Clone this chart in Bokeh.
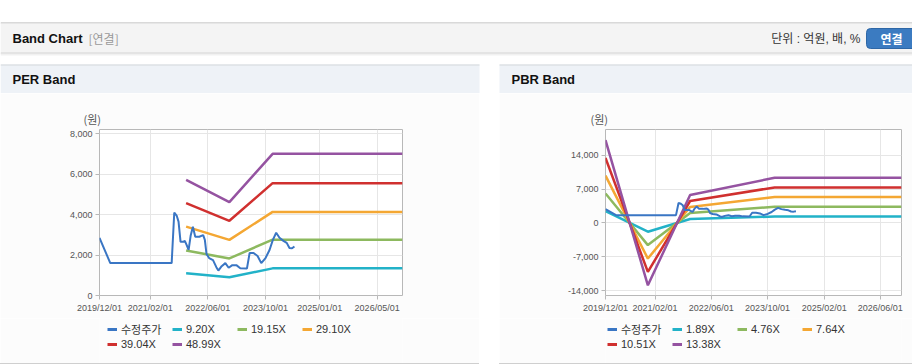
import datetime as dt
from bokeh.plotting import figure
from bokeh.layouts import column, row
from bokeh.models import (Range1d, FixedTicker, DatetimeTickFormatter, NumeralTickFormatter,
                          Legend, LegendItem, Spacer)
from bokeh.core.properties import value
from bokeh.embed import file_html
from bokeh.resources import INLINE

# ---------------- data ----------------
price_dates = ["2019-12-01", "2020-03-01", "2021-08-01", "2021-08-23", "2021-09-12", "2021-09-28",
               "2021-10-15", "2021-11-06", "2021-11-20", "2021-12-05", "2021-12-22", "2022-01-08",
               "2022-01-27", "2022-02-16", "2022-03-22", "2022-04-24", "2022-05-08", "2022-05-22",
               "2022-06-13", "2022-07-16", "2022-08-13", "2022-08-30", "2022-09-27", "2022-10-28",
               "2022-11-25", "2022-12-26", "2023-01-29", "2023-03-03", "2023-04-28", "2023-05-21",
               "2023-06-23", "2023-07-27", "2023-08-27", "2023-10-02", "2023-11-05", "2023-12-03",
               "2023-12-31", "2024-01-28", "2024-03-01", "2024-03-29", "2024-04-21", "2024-05-13",
               "2024-06-02"]
price_values = [2850, 1600, 1600, 4100, 3950, 3650,
                2650, 2650, 2700, 2500, 2250, 2950,
                3400, 2900, 2900, 2980, 2750, 2050,
                1850, 1750, 1400, 1230, 1450, 1600,
                1370, 1500, 1500, 1350, 1330, 2100,
                2100, 1950, 1600, 1850, 2250, 2750,
                3100, 2850, 2700, 2600, 2350, 2330,
                2420]
price_label = "수정주가"

per_dates = ["2021-12-01", "2022-12-01", "2023-12-01", "2026-12-01"]
per_labels = ["9.20X", "19.15X", "29.10X", "39.04X", "48.99X"]
per_9_20 = [1100, 900, 1340, 1340]
per_19_15 = [2220, 1830, 2760, 2760]
per_29_10 = [3400, 2750, 4130, 4130]
per_39_04 = [4560, 3690, 5550, 5550]
per_48_99 = [5710, 4610, 7000, 7000]

pbr_dates = ["2019-12-01", "2020-12-01", "2021-12-01", "2023-12-01", "2026-12-01"]
pbr_labels = ["1.89X", "4.76X", "7.64X", "10.51X", "13.38X"]
pbr_1_89 = [2420, -1820, 815, 1320, 1320]
pbr_4_76 = [6080, -4590, 2050, 3320, 3320]
pbr_7_64 = [9770, -7370, 3290, 5330, 5330]
pbr_10_51 = [13430, -10130, 4525, 7330, 7330]
pbr_13_38 = [17100, -12900, 5760, 9330, 9330]

per_x_ticks = ["2019-12-01", "2021-02-01", "2022-06-01", "2023-10-01", "2025-01-01", "2026-05-01"]
pbr_x_ticks = ["2019-12-01", "2021-02-01", "2022-06-01", "2023-10-01", "2025-02-01", "2026-06-01"]
per_y_ticks = [0, 2000, 4000, 6000, 8000]
pbr_y_ticks = [-14000, -7000, 0, 7000, 14000]
x_start, x_end = "2019-12-01", "2026-12-01"

# ---------------- styles ----------------
COLORS = ["#3a76c4", "#22b2c8", "#8db95f", "#f4a733", "#d0302f", "#9553a1"]
LATIN = "Liberation Sans, Noto Sans CJK KR"
KFONT = "Noto Sans CJK KR"
PANEL = "#fcfcfc"


def d(s):
    return dt.datetime.strptime(s, "%Y-%m-%d")


def ms(s):
    return (d(s) - dt.datetime(1970, 1, 1)).total_seconds() * 1000.0


def make_chart(width, b_left, b_right, y_rng, y_ticks, x_ticks, title_offset,
               band_dates, bands):
    p = figure(width=width, height=225, x_axis_type="datetime",
               x_range=Range1d(d(x_start), d(x_end)), y_range=Range1d(*y_rng),
               output_backend="svg", toolbar_location=None,
               min_border_left=b_left, min_border_right=b_right,
               min_border_top=36, min_border_bottom=23,
               border_fill_color=PANEL, background_fill_color="white",
               outline_line_color="#b8b8b8")
    xt = FixedTicker(ticks=[ms(t) for t in x_ticks])
    p.xaxis.ticker = xt
    p.xgrid.ticker = xt
    yt = FixedTicker(ticks=y_ticks)
    p.yaxis.ticker = yt
    p.ygrid.ticker = yt
    fmt = "%Y/%m/%d"
    p.xaxis.formatter = DatetimeTickFormatter(microseconds=fmt, milliseconds=fmt, seconds=fmt,
                                              minsec=fmt, minutes=fmt, hourmin=fmt, hours=fmt,
                                              days=fmt, months=fmt, years=fmt)
    p.yaxis.formatter = NumeralTickFormatter(format="0,0")
    for ax in (p.xaxis[0], p.yaxis[0]):
        ax.axis_line_color = None
        ax.major_tick_line_color = "#b8b8b8"
        ax.major_tick_out = 4
        ax.major_tick_in = 0
        ax.minor_tick_line_color = None
        ax.major_label_text_font = "Liberation Sans"
        ax.major_label_text_font_size = "9px"
        ax.major_label_text_color = "#555555"
    p.xaxis.major_label_standoff = 3
    p.yaxis.major_label_standoff = 3
    p.grid.grid_line_color = "#e6e6e6"

    p.title.text = "(원)"
    p.title.align = "left"
    p.title.offset = title_offset
    p.title.standoff = 6
    p.title.text_font = KFONT
    p.title.text_font_size = "11px"
    p.title.text_font_style = "normal"
    p.title.text_color = "#555555"

    for vals, col in zip(bands, COLORS[1:]):
        p.line([d(s) for s in band_dates], vals, line_color=col, line_width=2.5)
    p.line([d(s) for s in price_dates], price_values, line_color=COLORS[0], line_width=2)
    return p


def make_legend(width, labels, lx):
    # legend-only strip below a chart; its frame is aligned with the chart frame above
    lg = figure(width=width, height=45, x_range=Range1d(0, 1), y_range=Range1d(0, 1),
                output_backend="svg", toolbar_location=None, x_axis_location=None,
                y_axis_location=None, min_border=0, outline_line_color=None,
                background_fill_color=PANEL, border_fill_color=PANEL)
    lg.grid.visible = False
    items = []
    for lab, col in zip([price_label] + labels, COLORS):
        # key-only renderer, kept outside the visible range
        r = lg.line(x=[5, 6], y=[5, 5], line_color=col, line_width=3)
        items.append(LegendItem(label=lab, renderers=[r]))
    leg = Legend(items=items, location=(lx, 12), orientation="horizontal", ncols=4,
                 glyph_width=10, glyph_height=14, label_height=14, label_width=51,
                 label_standoff=4, padding=0, spacing=0, margin=0,
                 border_line_color=None, background_fill_alpha=0,
                 label_text_font=LATIN, label_text_font_size="11px", label_text_color="#333333")
    lg.add_layout(leg, "center")
    return lg


left = make_chart(479, 99, 77, (0, 8200), per_y_ticks, per_x_ticks, -16,
                  per_dates, [per_9_20, per_19_15, per_29_10, per_39_04, per_48_99])
right = make_chart(413, 106, 11, (-15000, 19300), pbr_y_ticks, pbr_x_ticks, -15,
                   pbr_dates, [pbr_1_89, pbr_4_76, pbr_7_64, pbr_10_51, pbr_13_38])
left_leg = make_legend(479, per_labels, 8)
right_leg = make_legend(413, pbr_labels, 2)
left_rule = Spacer(width=479, height=1, styles={"background-color": "#cfcfcf"})
right_rule = Spacer(width=413, height=1, styles={"background-color": "#cfcfcf"})

# ---------------- header (page chrome) ----------------
h = figure(width=912, height=93, x_range=Range1d(0, 912), y_range=Range1d(93, 0),
           output_backend="svg", toolbar_location=None, x_axis_location=None, y_axis_location=None,
           min_border=0, outline_line_color=None, background_fill_color="white",
           border_fill_color="white")
h.grid.visible = False
h.quad(left=[0], right=[912], top=[22], bottom=[23], fill_color="#b4b4b4", line_color=None)
h.quad(left=[0], right=[912], top=[23], bottom=[52], fill_color="#f4f4f4", line_color=None)
h.quad(left=[0, 0, 0], right=[912, 912, 912], top=[52, 53, 54], bottom=[53, 54, 55],
       fill_color=["#cfcfcf", "#e2e2e2", "#f2f2f2"], line_color=None)
h.quad(left=[0, 499], right=[479, 912], top=[64, 64], bottom=[93, 93],
       fill_color="#eef2f7", line_color=None)
h.quad(left=[0, 499], right=[479, 912], top=[64, 64], bottom=[65, 65],
       fill_color="#d3d7dc", line_color=None)
h.quad(left=[866], right=[930], top=[28], bottom=[48], fill_color="#3b7bc1",
       line_color="#2e67a6", border_radius=4)

h.text(x=[12], y=[38], text=["Band Chart"], text_font=value("Liberation Sans"),
       text_font_style="bold", text_font_size="13px", text_color="#111111",
       text_baseline="middle", text_align="left")
h.text(x=[88], y=[38], text=["[연결]"], text_font=value(KFONT),
       text_font_size="12px", text_color="#999999", text_baseline="middle", text_align="left")
h.text(x=[860], y=[38], text=["단위 : 억원, 배, %"], text_font=value(LATIN),
       text_font_size="12px", text_color="#333333", text_baseline="middle", text_align="right")
h.text(x=[891], y=[38], text=["연결"], text_font=value(KFONT), text_font_style="bold",
       text_font_size="12px", text_color="white", text_baseline="middle", text_align="center")
h.text(x=[12, 511], y=[79, 79], text=["PER Band", "PBR Band"], text_font=value("Liberation Sans"),
       text_font_style="bold", text_font_size="13px", text_color="#111111",
       text_baseline="middle", text_align="left")

layout = column(h, row(column(left, left_leg, left_rule), Spacer(width=20, height=271),
                       column(right, right_leg, right_rule)))

open("out.html", "w").write(file_html(layout, INLINE))
